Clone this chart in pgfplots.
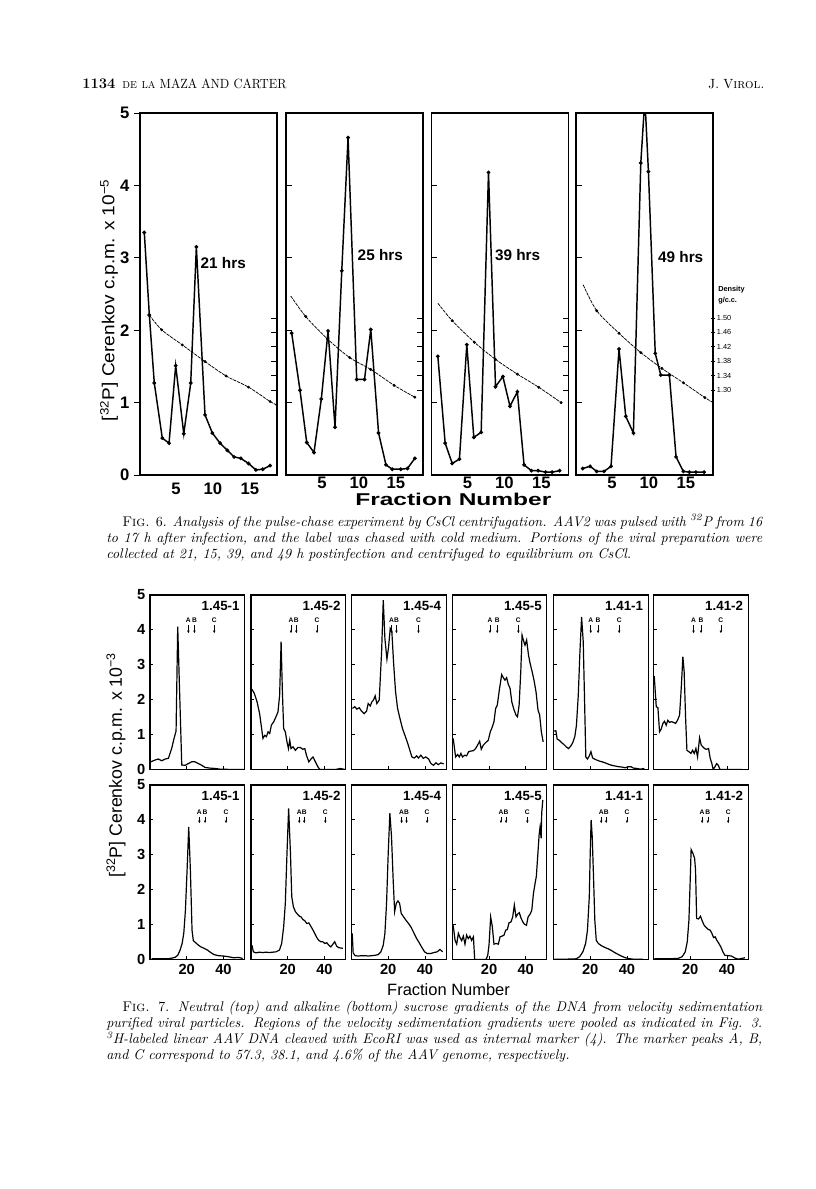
\documentclass[border=0pt]{standalone}
\usepackage{fontspec}
\usepackage{graphicx}
\usepackage{pgfplots}
\pgfplotsset{compat=1.18}
\usetikzlibrary{arrows.meta}
\newfontfamily\ff{Liberation Sans}

\pgfplotsset{
  f6/.style={anchor=south west, scale only axis, width=102.75pt, height=271.5pt,
    xmin=0.15, xmax=18.65, ymin=0, ymax=5,
    xtick={5,10,15}, xticklabels={5,10,15}, ytick={1,2,3,4}, yticklabels={},
    tick align=inside, major tick length=4.5pt, tick pos=left,
    x tick style={draw=none}, y tick style={line width=0.6pt,black},
    axis line style={line width=0.8pt},
    tick label style={font=\ff\bfseries\fontsize{12.5}{12.5}\selectfont},
    xticklabel style={anchor=north, text height=9pt, text depth=0pt, yshift=2.5pt}},
  dax/.style={anchor=south west, scale only axis, width=102.75pt, height=271.5pt,
    xmin=0.15, xmax=18.65, ymin=1.064, ymax=2.069,
    axis x line=none, axis y line*=right,
    ytick={1.30,1.34,1.38,1.42,1.46,1.50}, yticklabels={},
    tick align=inside, major tick length=4.3pt,
    axis line style={line width=0.8pt}, y tick style={line width=0.5pt,black}},
  mainline/.style={black, line width=1.1pt, mark=*, mark size=0.8pt},
  dens/.style={black, line width=0.55pt, smooth, tension=0.5, dash pattern=on 2.5pt off 0.7pt,
    mark=*, mark size=0.8pt, mark options={solid}},
  f7/.style={anchor=south west, scale only axis, width=70.9pt, height=130.9pt,
    xmin=0, xmax=51.5, ymin=0, ymax=5,
    xtick={20,40}, xticklabels={}, ytick={1,2,3,4}, yticklabels={},
    tick align=inside, major tick length=2.5pt, tick pos=left,
    axis line style={line width=0.8pt}, tick style={line width=0.6pt,black},
    tick label style={font=\ff\bfseries\fontsize{11}{11}\selectfont},
    xticklabel style={anchor=north, text height=8pt, text depth=0pt}},
  curve/.style={black, line width=0.9pt, mark=none},
}

\newcommand{\abc}[6]{%
  \draw[line width=0.45pt,-{Latex[length=2pt,width=1.9pt]}] (axis cs:#1,#5) -- (axis cs:#1,#6);
  \draw[line width=0.45pt,-{Latex[length=2pt,width=1.9pt]}] (axis cs:#2,#5) -- (axis cs:#2,#6);
  \draw[line width=0.45pt,-{Latex[length=2pt,width=1.9pt]}] (axis cs:#3,#5) -- (axis cs:#3,#6);
  \node[font=\ff\bfseries\fontsize{5}{5}\selectfont,inner sep=0pt] at (axis cs:#1,#4) {A};
  \node[font=\ff\bfseries\fontsize{5}{5}\selectfont,inner sep=0pt] at (axis cs:#2,#4) {B};
  \node[font=\ff\bfseries\fontsize{5}{5}\selectfont,inner sep=0pt] at (axis cs:#3,#4) {C};
}
\newcommand{\plab}[1]{\node[anchor=north east,font=\ff\bfseries\fontsize{10}{10}\selectfont,inner sep=0pt] at (rel axis cs:0.95,0.968) {#1};}
\newcommand{\hrs}[3]{\node[anchor=west,font=\ff\bfseries\fontsize{11.5}{12}\selectfont,inner sep=0pt] at (axis cs:#1,#2) {#3};}

\begin{document}
\begin{tikzpicture}
\path[use as bounding box, fill=white] (0,0) rectangle (612pt,-891.75pt);

% ---------- header ----------
\node[anchor=base west, inner sep=0pt, font=\bfseries\fontsize{11}{13}\selectfont] at (61.5pt,-66pt) {1134};
\node[anchor=base west, inner sep=0pt, font=\fontsize{10}{12}\selectfont] at (91.5pt,-66pt) {\scalebox{0.93}[1]{{\scshape de la} MAZA AND CARTER}};
\node[anchor=base east, inner sep=0pt, font=\fontsize{10}{12}\selectfont] at (573.75pt,-66pt) {J. V{\scshape irol.}};

% ---------- Fig. 6 ----------
\begin{axis}[f6, at={(105pt,-356.25pt)}, ytick={0,1,2,3,4,5}, yticklabels={0,1,2,3,4,5}, tick align=outside]
\addplot[mainline] coordinates {(0.73,3.35)(1.41,2.21)(2.08,1.27)(3.16,0.51)(4.07,0.44)(4.97,1.51)(6.06,0.57)(7.0,1.27)(7.76,3.15)(8.93,0.83)(9.92,0.58)(10.96,0.44)(11.95,0.34)(12.85,0.25)(13.76,0.23)(14.8,0.16)(15.8,0.07)(16.73,0.08)(17.72,0.13)};
\hrs{8.3}{2.93}{21 hrs}
\end{axis}
\begin{axis}[dax, at={(105pt,-356.25pt)}]
\addplot[dens] coordinates {(1.41,1.508)(3.08,1.467)(5.87,1.425)(8.93,1.379)(11.77,1.339)(14.8,1.308)(17.72,1.268)(18.6,1.259)};
\end{axis}

\begin{axis}[f6, at={(214.5pt,-356.25pt)}]
\addplot[mainline] coordinates {(0.92,1.96)(2.04,1.17)(2.95,0.45)(3.93,0.31)(4.92,1.05)(5.83,1.99)(6.77,0.66)(7.68,2.82)(8.53,4.66)(9.7,1.32)(10.75,1.32)(11.6,2.01)(12.65,0.58)(13.65,0.14)(14.5,0.08)(15.65,0.08)(16.55,0.09)(17.55,0.23)};
\hrs{9.8}{3.04}{25 hrs}
\end{axis}
\begin{axis}[dax, at={(214.5pt,-356.25pt)}]
\addplot[dens, mark indices={2,...,7}] coordinates {(0.79,1.561)(2.81,1.504)(5.73,1.442)(8.75,1.39)(11.6,1.357)(14.75,1.313)(17.55,1.28)};
\end{axis}

\begin{axis}[f6, at={(323.6pt,-356.25pt)}]
\addplot[mainline] coordinates {(1.01,1.64)(2.0,0.44)(2.95,0.16)(3.93,0.22)(4.92,1.8)(5.87,0.52)(6.86,0.59)(7.85,4.18)(8.8,1.22)(9.79,1.36)(10.75,0.95)(11.75,1.15)(12.65,0.14)(13.65,0.06)(14.55,0.06)(15.55,0.04)(16.45,0.04)(17.45,0.06)};
\hrs{8.7}{3.04}{39 hrs}
\end{axis}
\begin{axis}[dax, at={(323.6pt,-356.25pt)}]
\addplot[dens, mark indices={2,...,7}] coordinates {(1.01,1.541)(2.95,1.4925)(5.95,1.4325)(8.8,1.385)(11.75,1.344)(14.65,1.3075)(17.65,1.265)};
\end{axis}

\begin{axis}[f6, at={(432pt,-356.25pt)}]
\addplot[mainline] coordinates {(1.05,0.09)(2.05,0.12)(2.95,0.05)(3.93,0.05)(4.88,0.12)(5.96,1.74)(6.87,0.81)(7.9,0.58)(8.9,4.31)(9.45,5.2)(9.93,4.19)(10.85,1.68)(11.6,1.38)(12.76,1.38)(13.66,0.25)(14.65,0.05)(15.45,0.04)(16.35,0.04)(17.45,0.04)};
\hrs{11.2}{3.01}{49 hrs}
\end{axis}
\begin{axis}[dax, at={(432pt,-356.25pt)}, yticklabels={1.30,1.34,1.38,1.42,1.46,1.50}, tick align=center, major tick length=3.5pt,
  yticklabel style={font=\ff\fontsize{5.5}{5.5}\selectfont, inner sep=1pt}]
\addplot[dens, mark indices={2,...,7}] coordinates {(1.12,1.592)(2.95,1.52)(5.96,1.4575)(8.9,1.404)(11.75,1.36)(14.65,1.32)(17.55,1.279)(18.6,1.266)};
\end{axis}
\node[anchor=west, inner sep=0pt, font=\ff\bfseries\fontsize{5.5}{6}\selectfont] at (538.5pt,-217.5pt) {Density};
\node[anchor=west, inner sep=0pt, font=\ff\bfseries\fontsize{5.5}{6}\selectfont] at (538.5pt,-225.5pt) {g/c.c.};

\node[rotate=90, inner sep=0pt] at (81.75pt,-225pt) {\scalebox{1.1}[1]{\ff\fontsize{13}{13}\selectfont [\textsuperscript{32}P] Cerenkov c.p.m. x 10\textsuperscript{\char"2212 5}}};
\node[inner sep=0pt] at (340pt,-374.5pt) {\resizebox{147pt}{9.3pt}{\ff\bfseries Fraction Number}};

\node[anchor=north west, inner sep=0pt, text width=492pt, align=justify, font=\fontsize{10.5}{12}\selectfont] at (79.5pt,-385.5pt)
{\hspace*{12pt}{\scshape Fig.} 6. \itshape Analysis of the pulse-chase experiment by CsCl centrifugation. AAV2 was pulsed with \textsuperscript{32}P from 16\linebreak
to 17 h after infection, and the label was chased with cold medium. Portions of the viral preparation were\linebreak
collected at 21, 15, 39, and 49 h postinfection and centrifuged to equilibrium on CsCl.};

% ---------- Fig. 7, top row (neutral) ----------
\begin{axis}[f7, at={(112.5pt,-577.125pt)}, ytick={0,1,2,3,4,5}, yticklabels={0,1,2,3,4,5}]
\addplot[curve] coordinates {(0.4,0.22)(2.7,0.27)(4.5,0.30)(6.4,0.25)(8.2,0.3)(10,0.32)(11.8,0.6)(13.1,0.89)(14.2,1.1)(15.1,4.09)(17.3,0.13)(19.1,0.12)(20.9,0.17)(22.7,0.22)(24.5,0.22)(26.4,0.17)(28.2,0.12)(30,0.06)(32.7,0.04)(35.5,0.03)(38.2,0.01)(45.5,0)(51,0)};
\plab{1.45-1}
\abc{20.9}{24.2}{35}{4.28}{4.13}{3.9}
\end{axis}
\begin{axis}[f7, at={(188.25pt,-577.125pt)}]
\addplot[curve] coordinates {(0.5,2.3)(1.8,2.18)(3.3,1.94)(4.7,1.6)(5.8,1.17)(6.5,0.89)(7.5,0.98)(8.4,0.94)(9.3,1.08)(10.2,1.03)(11.1,1.27)(12.4,1.37)(13.6,1.51)(14.7,1.65)(15.6,2.13)(16.4,3.66)(17.1,2.23)(17.8,1.17)(18.7,1.08)(19.6,0.79)(20.4,0.6)(21.1,0.84)(21.8,0.6)(22.9,0.65)(24.2,0.55)(25.5,0.63)(26.9,0.63)(28.2,0.58)(29.3,0.6)(30.2,0.41)(31.5,0.22)(32.7,0.3)(33.8,0.36)(35.1,0.22)(36.4,0.08)(37.5,0)(41.5,0)(46,0.0)(48.7,0.03)(51.3,0)};
\plab{1.45-2}
\abc{21.8}{24.7}{36}{4.28}{4.13}{3.9}
\end{axis}
\begin{axis}[f7, at={(263.625pt,-577.125pt)}]
\addplot[curve] coordinates {(0.5,1.75)(1.8,1.8)(2.9,1.73)(4.2,1.77)(5.5,1.67)(6.9,1.6)(8.2,1.67)(9.1,1.89)(10.2,1.82)(11.1,1.94)(12,1.99)(12.9,2.11)(13.8,1.89)(15.1,1.99)(16.4,3.37)(17.3,4.85)(18.2,3.75)(19.3,3.16)(20.2,3.51)(21.1,4.04)(22,3.94)(22.9,3.08)(24,2.23)(25.1,1.75)(26.4,1.46)(27.8,1.17)(29.1,0.98)(30.5,0.77)(31.8,0.55)(32.9,0.36)(34.2,0.33)(35.5,0.39)(36.5,0.33)(37.8,0.41)(39.1,0.32)(40.5,0.36)(42,0.3)(43.3,0.17)(44.7,0.12)(46,0.19)(47.3,0.14)(48.7,0.19)(50.2,0.16)};
\plab{1.45-4}
\abc{21.8}{24.5}{36.5}{4.28}{4.13}{3.9}
\end{axis}
\begin{axis}[f7, at={(339.225pt,-577.125pt)}]
\addplot[curve] coordinates {(0.5,0.89)(1.8,0.36)(2.9,0.43)(3.8,0.36)(4.7,0.46)(5.6,0.36)(6.7,0.41)(7.8,0.39)(8.9,0.51)(10.2,0.53)(11.5,0.54)(12.7,0.6)(14,0.72)(14.9,0.81)(15.8,0.58)(16.9,0.7)(18.2,0.77)(19.6,0.84)(20.7,1.08)(21.8,1.22)(22.7,1.37)(23.6,1.75)(24.5,1.84)(25.6,2.27)(26.9,2.72)(27.8,2.63)(28.7,2.56)(29.6,2.63)(30.5,2.44)(31.5,2.32)(32.4,1.94)(33.5,1.73)(34.7,1.56)(35.5,1.51)(36.4,1.84)(37.3,2.8)(38,3.85)(38.7,3.71)(39.6,3.56)(40.5,3.71)(41.5,3.28)(42.4,3.04)(43.5,2.8)(44.5,2.56)(45.6,2.23)(46.7,1.7)(47.6,1.56)(48.5,1.08)(49.5,0.79)};
\plab{1.45-5}
\abc{20.5}{24.5}{36}{4.28}{4.13}{3.9}
\end{axis}
\begin{axis}[f7, at={(415.125pt,-577.125pt)}]
\addplot[curve] coordinates {(0.4,1.1)(1.3,1.11)(2,0.87)(3.1,0.84)(4.4,0.77)(5.6,0.72)(6.9,0.65)(8.2,0.6)(9.5,0.68)(10.5,0.77)(11.6,0.94)(12.5,1.27)(13.5,2.13)(14.4,3.37)(15.3,4.37)(16.2,3.66)(16.9,2.03)(17.6,0.36)(18.5,0.3)(19.5,0.39)(20.4,0.51)(21.3,0.33)(22.4,0.3)(23.6,0.27)(25.1,0.24)(26.5,0.22)(28.2,0.19)(30,0.15)(31.8,0.12)(33.6,0.1)(35.5,0.08)(37.3,0.07)(39.1,0.05)(40.9,0.08)(42.2,0.08)(43.6,0.04)(45.5,0.03)(47.3,0.01)(49.5,0.03)};
\plab{1.41-1}
\abc{20.3}{24.3}{35.8}{4.28}{4.13}{3.9}
\end{axis}
\begin{axis}[f7, at={(490.125pt,-577.125pt)}]
\addplot[curve] coordinates {(0.4,2.68)(1.5,1.8)(2.4,1.77)(3.3,1.08)(4.2,1.16)(5.1,1.32)(6,1.38)(6.9,1.27)(7.8,1.41)(8.7,1.35)(9.8,1.37)(10.9,1.35)(12,1.32)(13.1,1.41)(14.2,1.56)(15.1,2.32)(16,3.23)(16.7,2.8)(17.5,1.46)(18.2,0.55)(19.3,0.51)(20.4,0.46)(21.3,0.55)(22.2,0.46)(23.1,0.6)(24,0.36)(25.1,0.91)(26,0.7)(26.9,0.65)(27.8,0.6)(28.7,0.58)(30,0.6)(30.9,0.32)(31.8,0.17)(32.5,0)(33.5,0.08)(34.4,0.17)(35.3,0.12)(36.2,0)(41.8,0)(48.2,0)};
\plab{1.41-2}
\abc{21.8}{25.9}{36.7}{4.28}{4.13}{3.9}
\end{axis}

% ---------- Fig. 7, bottom row (alkaline) ----------
\begin{axis}[f7, at={(112.5pt,-719.625pt)}, ytick={0,1,2,3,4,5}, yticklabels={0,1,2,3,4,5}, xticklabels={20,40}]
\addplot[curve] coordinates {(0.9,0.02)(5.5,0.02)(10,0.02)(13.6,0.06)(15.1,0.12)(16.4,0.27)(17.5,0.46)(18.4,0.75)(19.3,1.41)(20.2,2.56)(21.1,3.8)(22,2.56)(22.9,0.84)(23.6,0.54)(24.9,0.48)(26.4,0.41)(27.8,0.36)(29.5,0.32)(31.3,0.27)(33.1,0.2)(34.9,0.14)(37.3,0.11)(40,0.1)(42.7,0.08)(45.5,0.05)(48.2,0.06)(50.5,0.03)};
\plab{1.45-1}
\abc{26.9}{30}{41.4}{4.23}{4.09}{3.9}
\end{axis}
\begin{axis}[f7, at={(188.25pt,-719.625pt)}, xticklabels={20,40}]
\addplot[curve] coordinates {(0.5,0.41)(1.3,0.22)(2.7,0.19)(4.5,0.21)(6.4,0.2)(8.2,0.21)(10,0.2)(11.8,0.21)(13.6,0.22)(15.5,0.27)(16.7,0.46)(17.8,0.94)(18.7,1.61)(19.6,3.04)(20.5,4.33)(21.5,3.04)(22.2,1.8)(23.1,1.51)(24.2,1.37)(25.3,1.3)(26.4,1.24)(27.3,1.22)(28.2,1.15)(29.3,1.11)(30.4,1.03)(31.5,1.05)(32.5,0.96)(33.6,0.86)(34.7,0.75)(35.8,0.63)(36.9,0.55)(38,0.51)(39.1,0.51)(40.2,0.46)(41.3,0.48)(42.4,0.41)(43.5,0.36)(44.5,0.43)(45.6,0.51)(46.7,0.38)(47.8,0.34)(50,0.32)};
\plab{1.45-2}
\abc{26.3}{29}{40.5}{4.23}{4.09}{3.9}
\end{axis}
\begin{axis}[f7, at={(263.625pt,-719.625pt)}, xticklabels={20,40}]
\addplot[curve] coordinates {(0.4,0.75)(0.9,0.19)(2,0.11)(3.6,0.1)(5.5,0.11)(7.3,0.11)(9.1,0.1)(10.9,0.11)(12.7,0.12)(14.5,0.14)(16,0.22)(17.3,0.41)(18.2,0.75)(19.1,1.61)(20,3.04)(20.9,4.19)(21.8,3.52)(22.7,2.28)(23.5,1.37)(24.4,1.61)(25.3,1.68)(26.2,1.61)(27.1,1.32)(28.4,1.22)(29.6,1.13)(31.1,1.03)(32.5,0.92)(34,0.76)(35.5,0.6)(36.9,0.48)(38.4,0.34)(39.8,0.22)(41.3,0.17)(43.1,0.17)(44.9,0.2)(46.7,0.22)(48.2,0.29)(49.6,0.22)};
\plab{1.45-4}
\abc{27.3}{30}{41.2}{4.23}{4.09}{3.9}
\end{axis}
\begin{axis}[f7, at={(339.225pt,-719.625pt)}, xticklabels={20,40}]
\addplot[curve] coordinates {(0.5,0.98)(1.5,0.55)(2.4,0.44)(3.3,0.75)(4.2,0.63)(5.1,0.54)(6,0.67)(6.9,0.44)(7.8,0.7)(8.7,0.6)(9.6,0.67)(10.5,0.55)(11.5,0.65)(12.2,0)(15.1,0)(18.4,0)(19.3,0.12)(20,0.41)(20.9,1.22)(21.8,0.94)(22.7,0.44)(23.8,0.46)(25.1,0.44)(26,0.65)(27.1,0.67)(28.2,0.7)(29.1,0.84)(30,0.86)(30.9,1.05)(32,1.08)(32.9,1.22)(33.8,1.56)(34.7,1.22)(35.6,1.3)(36.5,1.34)(37.5,1.18)(38.4,1.08)(39.3,1.01)(40.4,0.98)(41.3,1.22)(42.4,1.3)(43.3,1.41)(44.2,1.89)(45.1,2.18)(45.8,2.39)(46.5,2.94)(47.3,3.57)(47.8,3.79)(48.4,3.47)(48.7,4.19)(49.3,4.57)};
\plab{1.45-5}
\abc{26.5}{29.3}{40.9}{4.23}{4.09}{3.9}
\end{axis}
\begin{axis}[f7, at={(415.125pt,-719.625pt)}, xticklabels={20,40}]
\addplot[curve] coordinates {(0.5,0.01)(6.9,0.01)(12.4,0.02)(14.2,0.08)(16,0.22)(17.5,0.46)(18.5,0.84)(19.5,1.8)(20,3.04)(20.5,4.0)(21.1,3.52)(21.8,2.37)(22.5,1.13)(23.3,0.55)(24.4,0.46)(26,0.4)(27.8,0.35)(29.6,0.31)(31.5,0.26)(33.3,0.2)(35.1,0.15)(36.9,0.1)(38.7,0.06)(40.5,0.03)(43.3,0.01)(48.7,0.01)};
\plab{1.41-1}
\abc{26}{28.7}{40}{4.23}{4.09}{3.9}
\end{axis}
\begin{axis}[f7, at={(490.125pt,-719.625pt)}, xticklabels={20,40}]
\addplot[curve] coordinates {(0.5,0.02)(6.9,0.02)(13.3,0.03)(15.6,0.08)(17.3,0.22)(18.4,0.51)(19.3,1.13)(20,2.28)(20.5,3.15)(21.5,3.04)(22.4,2.9)(22.9,2.56)(23.5,1.18)(24.5,1.16)(25.6,1.24)(26.5,1.11)(27.6,0.98)(28.7,0.92)(29.8,0.86)(30.9,0.84)(31.8,0.75)(32.7,0.63)(33.6,0.65)(34.5,0.55)(35.6,0.46)(36.7,0.36)(37.8,0.22)(38.9,0.12)(40.7,0.11)(42.5,0.1)(44.4,0.04)(46.2,0.01)(48,0.03)(49.8,0.05)};
\plab{1.41-2}
\abc{26.5}{29.6}{40.7}{4.23}{4.09}{3.9}
\end{axis}

\node[rotate=90, inner sep=0pt] at (87pt,-573.75pt) {\ff\fontsize{13.3}{13.3}\selectfont [\textsuperscript{32}P] Cerenkov c.p.m. x 10\textsuperscript{\char"2212 3}};
\node[inner sep=0pt] at (336.4pt,-742.5pt) {\resizebox{92pt}{8.9pt}{\ff Fraction Number}};

\node[anchor=north west, inner sep=0pt, text width=492pt, align=justify, font=\fontsize{10.5}{12}\selectfont] at (79.5pt,-750.5pt)
{\hspace*{12pt}{\scshape Fig.} 7. \itshape Neutral (top) and alkaline (bottom) sucrose gradients of the DNA from velocity sedimentation\linebreak
purified viral particles. Regions of the velocity sedimentation gradients were pooled as indicated in Fig. 3.\linebreak
\textsuperscript{3}H-labeled linear AAV DNA cleaved with EcoRI was used as internal marker (4). The marker peaks A, B,\linebreak
and C correspond to 57.3, 38.1, and 4.6\% of the AAV genome, respectively.};

\end{tikzpicture}
\end{document}
